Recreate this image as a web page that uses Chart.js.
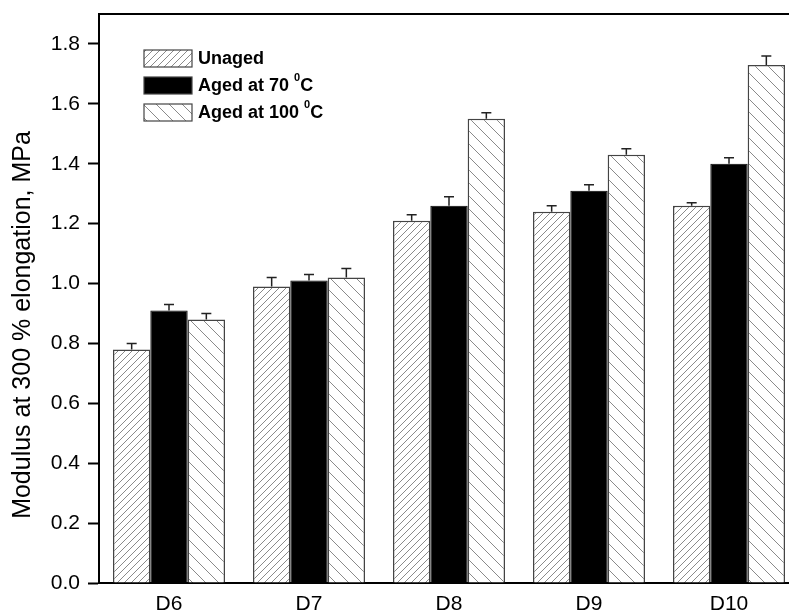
<!DOCTYPE html>
<html>
<head>
<meta charset="utf-8">
<script src="https://cdn.jsdelivr.net/npm/chart.js@4/dist/chart.umd.min.js"></script>
<style>
  html, body { margin: 0; padding: 0; overflow: hidden; background: #fff; }
  #wrap { width: 799px; height: 613px; position: relative; }
</style>
</head>
<body>
<div id="wrap"><canvas id="myChart"></canvas></div>
<script>
// data
const categories = ['D6', 'D7', 'D8', 'D9', 'D10']
const unaged = [0.78, 0.99, 1.21, 1.24, 1.26]
const unagedErr = [0.02, 0.03, 0.02, 0.02, 0.01]
const aged70 = [0.91, 1.01, 1.26, 1.31, 1.40]
const aged70Err = [0.02, 0.02, 0.03, 0.02, 0.02]
const aged100 = [0.88, 1.02, 1.55, 1.43, 1.73]
const aged100Err = [0.02, 0.03, 0.02, 0.02, 0.03]
const seriesNames = ['Unaged', 'Aged at 70 ', 'Aged at 100 ']
const yTitle = 'Modulus at 300 % elongation, MPa'

const FONT = "'Liberation Sans', Arial, sans-serif"
var ctx = document.getElementById('myChart').getContext('2d')

// diagonal hatch tile, dir 1 = '/', -1 = '\'
function hatch(s, dir) {
    const c = document.createElement('canvas')
    c.width = s; c.height = s
    const g = c.getContext('2d')
    g.fillStyle = '#fff'
    g.fillRect(0, 0, s, s)
    g.strokeStyle = '#8a8a8a'
    g.lineWidth = 1
    g.beginPath()
    if (dir > 0) {
        g.moveTo(0, s); g.lineTo(s, 0)
        g.moveTo(-2, 2); g.lineTo(2, -2)
        g.moveTo(s - 2, s + 2); g.lineTo(s + 2, s - 2)
    } else {
        g.moveTo(0, 0); g.lineTo(s, s)
        g.moveTo(-2, s - 2); g.lineTo(2, s + 2)
        g.moveTo(s - 2, -2); g.lineTo(s + 2, 2)
    }
    g.stroke()
    return ctx.createPattern(c, 'repeat')
}

const fwdHatch = hatch(7, 1)
const backHatch = hatch(13, -1)
const errors = [unagedErr, aged70Err, aged100Err]

// error bars + top frame + legend + y title
const extras = {
    id: 'extras',
    afterDatasetsDraw(chart) {
        const c = chart.ctx
        const y = chart.scales.y
        c.save()
        c.strokeStyle = '#222'
        c.lineWidth = 1.5
        chart.data.datasets.forEach((ds, i) => {
            const meta = chart.getDatasetMeta(i)
            meta.data.forEach((bar, j) => {
                const top = y.getPixelForValue(ds.data[j])
                const cap = y.getPixelForValue(ds.data[j] + errors[i][j])
                c.beginPath()
                c.moveTo(bar.x, top); c.lineTo(bar.x, cap)
                c.moveTo(bar.x - 5, cap); c.lineTo(bar.x + 5, cap)
                c.stroke()
            })
        })
        c.restore()
    },
    afterDraw(chart) {
        const c = chart.ctx
        const a = chart.chartArea
        c.save()
        // top frame line
        c.strokeStyle = '#000'
        c.lineWidth = 2
        c.beginPath()
        c.moveTo(a.left, a.top); c.lineTo(a.right, a.top)
        c.stroke()

        // legend
        const fills = [fwdHatch, '#000', backHatch]
        const rows = [50, 77, 104]
        rows.forEach((ry, i) => {
            c.fillStyle = fills[i]
            c.fillRect(144, ry, 48, 17)
            c.strokeStyle = '#444'
            c.lineWidth = 1.2
            c.strokeRect(144, ry, 48, 17)
            c.fillStyle = '#000'
            c.font = 'bold 18px ' + FONT
            c.textBaseline = 'middle'
            c.textAlign = 'left'
            const ty = ry + 9
            c.fillText(seriesNames[i], 198, ty)
            if (i > 0) {
                let tx = 198 + c.measureText(seriesNames[i]).width
                c.font = 'bold 11px ' + FONT
                c.fillText('0', tx, ty - 8)
                tx += c.measureText('0').width
                c.font = 'bold 18px ' + FONT
                c.fillText('C', tx, ty)
            }
        })

        // y axis title
        c.translate(23, 325)
        c.rotate(-Math.PI / 2)
        c.font = '25px ' + FONT
        c.textAlign = 'center'
        c.textBaseline = 'middle'
        c.fillText(yTitle, 0, 0)
        c.restore()
    }
}

var chart = new Chart(ctx, {
    type: 'bar',
    data: {
        labels: categories,
        datasets: [{
            label: 'Unaged',
            data: unaged,
            backgroundColor: fwdHatch,
            borderColor: '#444',
            borderWidth: 1.5
        }, {
            label: 'Aged at 70 °C',
            data: aged70,
            backgroundColor: '#000',
            borderColor: '#000',
            borderWidth: 1
        }, {
            label: 'Aged at 100 °C',
            data: aged100,
            backgroundColor: backHatch,
            borderColor: '#444',
            borderWidth: 1.5
        }]
    },
    options: {
        responsive: true,
        maintainAspectRatio: false,
        animation: false,
        layout: { padding: { top: 14, right: 0, left: 0, bottom: 0 } },
        plugins: {
            legend: { display: false },
            tooltip: { enabled: false }
        },
        datasets: { bar: { categoryPercentage: 0.8, barPercentage: 1.0 } },
        scales: {
            x: {
                grid: { display: false, drawTicks: false },
                border: { display: true, color: '#000', width: 2 },
                ticks: { color: '#000', padding: 9, font: { family: FONT, size: 21 } },
                afterFit(s) { s.height = 30 }
            },
            y: {
                min: 0,
                max: 1.9,
                grid: { drawOnChartArea: false, drawTicks: true, tickLength: 11, tickWidth: 2, tickColor: '#000' },
                border: { display: true, color: '#000', width: 2 },
                ticks: {
                    stepSize: 0.2,
                    color: '#000',
                    padding: 8,
                    font: { family: FONT, size: 21 },
                    callback: v => v.toFixed(1)
                },
                afterBuildTicks(s) { s.ticks = s.ticks.filter(t => t.value <= 1.8 + 1e-9) },
                afterFit(s) { s.width = 99; s.paddingTop = 0; s.paddingBottom = 0 }
            }
        }
    },
    plugins: [extras]
})
chart.update()
</script>
</body>
</html>
